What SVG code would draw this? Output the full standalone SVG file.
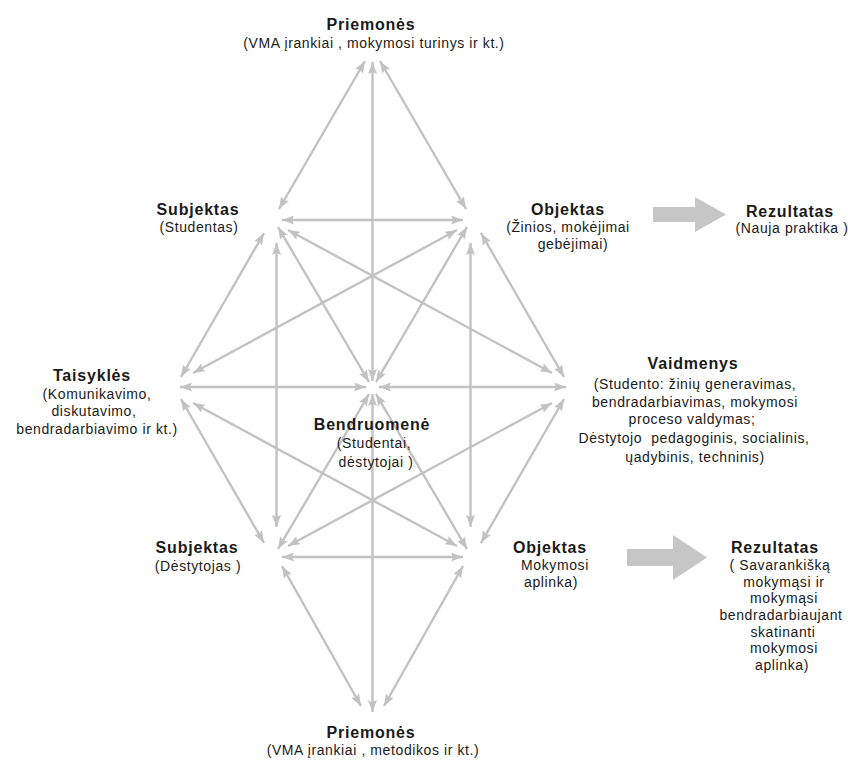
<svg xmlns="http://www.w3.org/2000/svg" width="848" height="760" viewBox="0 0 848 760">
<style>
.c{stroke:#c2c2c2;stroke-width:2.4;fill:none;marker-start:url(#ah);marker-end:url(#ah)}
text{font-family:"Liberation Sans",Arial,sans-serif;fill:#1a1a1a;text-anchor:middle}
.t{font-size:16px;font-weight:bold;letter-spacing:0.8px}
.s{font-size:14px;letter-spacing:0.6px}
.r{font-size:14px;letter-spacing:0.6px}
.big{fill:#c6c6c6}
</style>
<defs>
<marker id="ah" viewBox="0 0 12 9" refX="12" refY="4.5" markerWidth="12" markerHeight="9" markerUnits="userSpaceOnUse" orient="auto-start-reverse">
<path d="M0,0 L12,4.5 L0,9 L2,4.5 Z" fill="#c2c2c2"/>
</marker>
</defs>
<rect width="848" height="760" fill="#ffffff"/>
<g id="connectors">
<line class="c" x1="365" y1="61" x2="279" y2="209"/>
<line class="c" x1="380" y1="61" x2="466" y2="209"/>
<line class="c" x1="372.5" y1="62" x2="372.5" y2="381"/>
<line class="c" x1="282" y1="220" x2="463" y2="220"/>
<line class="c" x1="264" y1="233" x2="181" y2="377"/>
<line class="c" x1="278" y1="227" x2="369" y2="382"/>
<line class="c" x1="288" y1="230" x2="552" y2="373"/>
<line class="c" x1="276.5" y1="243" x2="276.5" y2="527"/>
<line class="c" x1="481" y1="233" x2="564" y2="377"/>
<line class="c" x1="467" y1="227" x2="376" y2="382"/>
<line class="c" x1="457" y1="230" x2="193" y2="373"/>
<line class="c" x1="470.5" y1="243" x2="470.5" y2="527"/>
<line class="c" x1="180" y1="387" x2="366" y2="387"/>
<line class="c" x1="379" y1="387" x2="566" y2="387"/>
<line class="c" x1="264" y1="543" x2="181" y2="399"/>
<line class="c" x1="457" y1="546" x2="193" y2="403"/>
<line class="c" x1="288" y1="546" x2="552" y2="403"/>
<line class="c" x1="481" y1="543" x2="564" y2="399"/>
<line class="c" x1="278" y1="549" x2="369" y2="394"/>
<line class="c" x1="467" y1="549" x2="376" y2="394"/>
<line class="c" x1="372.5" y1="394" x2="372.5" y2="712"/>
<line class="c" x1="282" y1="557" x2="463" y2="557"/>
<line class="c" x1="282" y1="566" x2="361" y2="706"/>
<line class="c" x1="463" y1="566" x2="384" y2="706"/>
</g>
<g id="arrow-result-top">
<polygon class="big" points="653,207 695,207 695,197 726,214.5 695,232 695,222 653,222"/>
</g>
<g id="arrow-result-bottom">
<polygon class="big" points="627,549 673,549 673,535 707,557.5 673,580 673,566 627,566"/>
</g>
<g id="node-priemones-top">
<text class="t" x="371" y="30">Priemonės</text>
<text class="s" x="374" y="48">(VMA įrankiai , mokymosi turinys ir kt.)</text>
</g>
<g id="node-subjektas-top">
<text class="t" x="198" y="215">Subjektas</text>
<text class="s" x="199" y="232">(Studentas)</text>
</g>
<g id="node-objektas-top">
<text class="t" x="568" y="215">Objektas</text>
<text class="s" x="568" y="232">(Žinios, mokėjimai</text>
<text class="s" x="573" y="249">gebėjimai)</text>
</g>
<g id="node-rezultatas-top">
<text class="t" x="790" y="217">Rezultatas</text>
<text class="s" x="792" y="233">(Nauja praktika )</text>
</g>
<g id="node-taisykles">
<text class="t" x="92" y="381">Taisyklės</text>
<text class="s" x="97" y="399">(Komunikavimo,</text>
<text class="s" x="94" y="416">diskutavimo,</text>
<text class="s" x="97" y="434">bendradarbiavimo ir kt.)</text>
</g>
<g id="node-bendruomene">
<text class="t" x="372" y="430">Bendruomenė</text>
<text class="s" x="374" y="448">(Studentai,</text>
<text class="s" x="376" y="467">dėstytojai )</text>
</g>
<g id="node-vaidmenys">
<text class="t" x="693" y="369">Vaidmenys</text>
<text class="s" x="695" y="389">(Studento: žinių generavimas,</text>
<text class="s" x="695" y="407">bendradarbiavimas, mokymosi</text>
<text class="s" x="692" y="424">proceso valdymas;</text>
<text class="s" x="694" y="443" xml:space="preserve">Dėstytojo  pedagoginis, socialinis,</text>
<text class="s" x="695" y="462">ųadybinis, techninis)</text>
</g>
<g id="node-subjektas-bottom">
<text class="t" x="197" y="553">Subjektas</text>
<text class="s" x="198" y="571">(Dėstytojas )</text>
</g>
<g id="node-objektas-bottom">
<text class="t" x="550" y="553">Objektas</text>
<text class="s" x="555" y="570">Mokymosi</text>
<text class="s" x="551" y="587">aplinka)</text>
</g>
<g id="node-rezultatas-bottom">
<text class="t" x="775" y="553">Rezultatas</text>
<text class="r" x="780" y="570">( Savarankišką</text>
<text class="r" x="784" y="587">mokymąsi ir</text>
<text class="r" x="784" y="603">mokymąsi</text>
<text class="r" x="781" y="620">bendradarbiaujant</text>
<text class="r" x="783" y="637">skatinanti</text>
<text class="r" x="784" y="653">mokymosi</text>
<text class="r" x="782" y="670">aplinka)</text>
</g>
<g id="node-priemones-bottom">
<text class="t" x="371" y="738">Priemonės</text>
<text class="s" x="373" y="755">(VMA įrankiai , metodikos ir kt.)</text>
</g>
</svg>
